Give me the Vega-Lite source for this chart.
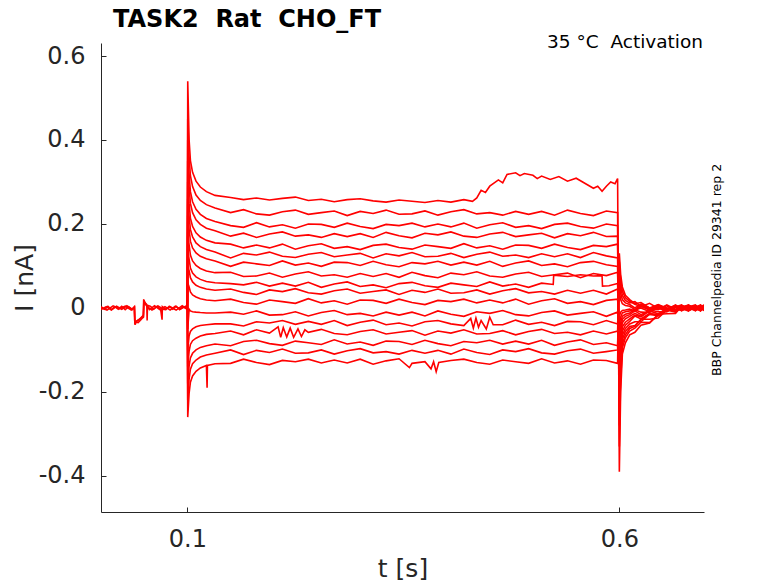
{
  "$schema": "https://vega.github.io/schema/vega-lite/v6.json",
  "autosize": {"type": "none"},
  "width": 603,
  "height": 469,
  "padding": {"left": 101, "top": 43, "right": 74, "bottom": 71},
  "background": "white",
  "config": {
    "view": {"stroke": null},
    "font": "DejaVu Sans",
    "axis": {
      "grid": false,
      "tickSize": -5,
      "domainColor": "#262626",
      "tickColor": "#262626",
      "labelColor": "#262626",
      "titleColor": "#262626",
      "labelFont": "DejaVu Sans",
      "titleFont": "DejaVu Sans",
      "labelFontSize": 24,
      "titleFontSize": 25,
      "titleFontWeight": "normal",
      "labelOverlap": false,
      "labelExpr": "'' + datum.value"
    }
  },
  "layer": [
    {
      "data": {
        "values": [
          {"s":1,"t":0,"i":0.003},{"s":1,"t":0.004,"i":-0.003},{"s":1,"t":0.008,"i":0.004},{"s":1,"t":0.012,"i":-0.004},{"s":1,"t":0.016,"i":0.003},{"s":1,"t":0.02,"i":-0.003},{"s":1,"t":0.024,"i":0.004},{"s":1,"t":0.028,"i":-0.004},{"s":1,"t":0.032,"i":0.003},{"s":1,"t":0.036,"i":-0.003},{"s":1,"t":0.0385,"i":0.002},{"s":1,"t":0.039,"i":-0.03},{"s":1,"t":0.0395,"i":-0.04},{"s":1,"t":0.041,"i":-0.032},{"s":1,"t":0.044,"i":-0.028},{"s":1,"t":0.047,"i":-0.022},{"s":1,"t":0.049,"i":-0.02},{"s":1,"t":0.0494,"i":0.02},{"s":1,"t":0.051,"i":0.012},{"s":1,"t":0.053,"i":0.008},{"s":1,"t":0.0534,"i":-0.03},{"s":1,"t":0.0538,"i":0.006},{"s":1,"t":0.057,"i":0.004},{"s":1,"t":0.061,"i":-0.003},{"s":1,"t":0.065,"i":0.004},{"s":1,"t":0.069,"i":-0.003},{"s":1,"t":0.0707,"i":-0.028},{"s":1,"t":0.071,"i":0.003},{"s":1,"t":0.075,"i":-0.004},{"s":1,"t":0.079,"i":0.004},{"s":1,"t":0.083,"i":-0.003},{"s":1,"t":0.087,"i":0.004},{"s":1,"t":0.091,"i":-0.004},{"s":1,"t":0.095,"i":0.003},{"s":1,"t":0.0998,"i":-0.002},
          {"s":1,"t":0.1,"i":0},{"s":1,"t":0.1004,"i":0.54},{"s":1,"t":0.102,"i":0.4},{"s":1,"t":0.1035,"i":0.351},{"s":1,"t":0.106,"i":0.323},{"s":1,"t":0.11,"i":0.302},{"s":1,"t":0.115,"i":0.288},{"s":1,"t":0.122,"i":0.277},{"s":1,"t":0.132,"i":0.268},
          {"s":1,"t":0.15,"i":0.263},{"s":1,"t":0.165,"i":0.258},{"s":1,"t":0.18,"i":0.262},{"s":1,"t":0.195,"i":0.257},{"s":1,"t":0.21,"i":0.261},{"s":1,"t":0.225,"i":0.264},{"s":1,"t":0.24,"i":0.256},{"s":1,"t":0.255,"i":0.259},{"s":1,"t":0.27,"i":0.253},{"s":1,"t":0.285,"i":0.258},{"s":1,"t":0.3,"i":0.26},{"s":1,"t":0.315,"i":0.255},{"s":1,"t":0.33,"i":0.252},{"s":1,"t":0.345,"i":0.257},{"s":1,"t":0.36,"i":0.254},{"s":1,"t":0.375,"i":0.251},{"s":1,"t":0.39,"i":0.256},{"s":1,"t":0.405,"i":0.252},{"s":1,"t":0.42,"i":0.258},{"s":1,"t":0.43,"i":0.254},{"s":1,"t":0.435,"i":0.262},{"s":1,"t":0.44,"i":0.28},{"s":1,"t":0.445,"i":0.275},{"s":1,"t":0.45,"i":0.29},{"s":1,"t":0.46,"i":0.305},{"s":1,"t":0.465,"i":0.298},{"s":1,"t":0.47,"i":0.318},{"s":1,"t":0.48,"i":0.322},{"s":1,"t":0.485,"i":0.315},{"s":1,"t":0.49,"i":0.32},{"s":1,"t":0.5,"i":0.316},{"s":1,"t":0.505,"i":0.308},{"s":1,"t":0.51,"i":0.314},{"s":1,"t":0.52,"i":0.306},{"s":1,"t":0.53,"i":0.313},{"s":1,"t":0.54,"i":0.302},{"s":1,"t":0.55,"i":0.309},{"s":1,"t":0.56,"i":0.297},{"s":1,"t":0.57,"i":0.285},{"s":1,"t":0.575,"i":0.29},{"s":1,"t":0.58,"i":0.278},{"s":1,"t":0.585,"i":0.29},{"s":1,"t":0.59,"i":0.3},{"s":1,"t":0.595,"i":0.296},{"s":1,"t":0.598,"i":0.308},
          {"s":1,"t":0.6,"i":-0.39},{"s":1,"t":0.6015,"i":-0.2},{"s":1,"t":0.6035,"i":-0.11},{"s":1,"t":0.607,"i":-0.083},{"s":1,"t":0.612,"i":-0.064},{"s":1,"t":0.618,"i":-0.058},{"s":1,"t":0.625,"i":-0.041},{"s":1,"t":0.635,"i":-0.036},{"s":1,"t":0.645,"i":-0.015},{"s":1,"t":0.655,"i":-0.014},{"s":1,"t":0.665,"i":-0.013},{"s":1,"t":0.672,"i":0.004},{"s":1,"t":0.68,"i":-0.003},{"s":1,"t":0.688,"i":0.006},{"s":1,"t":0.694,"i":-0.005},{"s":1,"t":0.698,"i":0.002},

          {"s":2,"t":0,"i":-0.004},{"s":2,"t":0.006,"i":0.003},{"s":2,"t":0.012,"i":-0.005},{"s":2,"t":0.018,"i":0.004},{"s":2,"t":0.024,"i":-0.003},{"s":2,"t":0.03,"i":0.005},{"s":2,"t":0.036,"i":-0.004},{"s":2,"t":0.0388,"i":0.001},{"s":2,"t":0.0392,"i":-0.036},{"s":2,"t":0.042,"i":-0.03},{"s":2,"t":0.046,"i":-0.025},{"s":2,"t":0.049,"i":-0.017},{"s":2,"t":0.0496,"i":0.016},{"s":2,"t":0.052,"i":0.009},{"s":2,"t":0.056,"i":-0.004},{"s":2,"t":0.062,"i":0.005},{"s":2,"t":0.068,"i":-0.004},{"s":2,"t":0.074,"i":0.003},{"s":2,"t":0.08,"i":-0.005},{"s":2,"t":0.086,"i":0.004},{"s":2,"t":0.092,"i":-0.003},{"s":2,"t":0.098,"i":0.004},
          {"s":2,"t":0.1,"i":0},{"s":2,"t":0.1004,"i":0.45},{"s":2,"t":0.102,"i":0.36},{"s":2,"t":0.1035,"i":0.315},{"s":2,"t":0.106,"i":0.289},{"s":2,"t":0.11,"i":0.269},{"s":2,"t":0.115,"i":0.256},{"s":2,"t":0.122,"i":0.246},{"s":2,"t":0.132,"i":0.238},
          {"s":2,"t":0.15,"i":0.227},{"s":2,"t":0.165,"i":0.234},{"s":2,"t":0.18,"i":0.224},{"s":2,"t":0.195,"i":0.221},{"s":2,"t":0.21,"i":0.229},{"s":2,"t":0.225,"i":0.233},{"s":2,"t":0.24,"i":0.223},{"s":2,"t":0.255,"i":0.227},{"s":2,"t":0.27,"i":0.231},{"s":2,"t":0.285,"i":0.22},{"s":2,"t":0.3,"i":0.23},{"s":2,"t":0.315,"i":0.225},{"s":2,"t":0.33,"i":0.233},{"s":2,"t":0.345,"i":0.223},{"s":2,"t":0.36,"i":0.224},{"s":2,"t":0.375,"i":0.231},{"s":2,"t":0.39,"i":0.221},{"s":2,"t":0.405,"i":0.229},{"s":2,"t":0.42,"i":0.234},{"s":2,"t":0.435,"i":0.224},{"s":2,"t":0.45,"i":0.227},{"s":2,"t":0.465,"i":0.221},{"s":2,"t":0.48,"i":0.23},{"s":2,"t":0.495,"i":0.223},{"s":2,"t":0.51,"i":0.23},{"s":2,"t":0.525,"i":0.221},{"s":2,"t":0.54,"i":0.233},{"s":2,"t":0.555,"i":0.225},{"s":2,"t":0.57,"i":0.22},{"s":2,"t":0.585,"i":0.231},{"s":2,"t":0.598,"i":0.227},
          {"s":2,"t":0.6,"i":-0.33},{"s":2,"t":0.6015,"i":-0.17},{"s":2,"t":0.6035,"i":-0.095},{"s":2,"t":0.607,"i":-0.071},{"s":2,"t":0.612,"i":-0.055},{"s":2,"t":0.618,"i":-0.048},{"s":2,"t":0.625,"i":-0.034},{"s":2,"t":0.635,"i":-0.035},{"s":2,"t":0.645,"i":-0.017},{"s":2,"t":0.655,"i":-0.003},{"s":2,"t":0.665,"i":-0.009},{"s":2,"t":0.672,"i":0.003},{"s":2,"t":0.68,"i":-0.006},{"s":2,"t":0.688,"i":0.005},{"s":2,"t":0.694,"i":-0.002},{"s":2,"t":0.698,"i":-0.005},

          {"s":3,"t":0,"i":0.001},{"s":3,"t":0.007,"i":-0.005},{"s":3,"t":0.014,"i":0.005},{"s":3,"t":0.021,"i":-0.002},{"s":3,"t":0.028,"i":0.004},{"s":3,"t":0.035,"i":-0.005},{"s":3,"t":0.0387,"i":0.003},{"s":3,"t":0.0393,"i":-0.033},{"s":3,"t":0.043,"i":-0.035},{"s":3,"t":0.047,"i":-0.026},{"s":3,"t":0.0492,"i":-0.022},{"s":3,"t":0.0498,"i":0.014},{"s":3,"t":0.053,"i":0.004},{"s":3,"t":0.059,"i":-0.005},{"s":3,"t":0.066,"i":0.005},{"s":3,"t":0.073,"i":-0.004},{"s":3,"t":0.08,"i":0.003},{"s":3,"t":0.087,"i":-0.005},{"s":3,"t":0.094,"i":0.005},{"s":3,"t":0.0995,"i":-0.003},
          {"s":3,"t":0.1,"i":0},{"s":3,"t":0.1004,"i":0.4},{"s":3,"t":0.102,"i":0.319},{"s":3,"t":0.1035,"i":0.277},{"s":3,"t":0.106,"i":0.253},{"s":3,"t":0.11,"i":0.235},{"s":3,"t":0.115,"i":0.223},{"s":3,"t":0.122,"i":0.213},{"s":3,"t":0.132,"i":0.206},
          {"s":3,"t":0.15,"i":0.196},{"s":3,"t":0.165,"i":0.192},{"s":3,"t":0.18,"i":0.203},{"s":3,"t":0.195,"i":0.193},{"s":3,"t":0.21,"i":0.198},{"s":3,"t":0.225,"i":0.19},{"s":3,"t":0.24,"i":0.2},{"s":3,"t":0.255,"i":0.199},{"s":3,"t":0.27,"i":0.192},{"s":3,"t":0.285,"i":0.202},{"s":3,"t":0.3,"i":0.194},{"s":3,"t":0.315,"i":0.189},{"s":3,"t":0.33,"i":0.199},{"s":3,"t":0.345,"i":0.196},{"s":3,"t":0.36,"i":0.202},{"s":3,"t":0.375,"i":0.193},{"s":3,"t":0.39,"i":0.2},{"s":3,"t":0.405,"i":0.193},{"s":3,"t":0.42,"i":0.202},{"s":3,"t":0.435,"i":0.19},{"s":3,"t":0.45,"i":0.198},{"s":3,"t":0.465,"i":0.203},{"s":3,"t":0.48,"i":0.192},{"s":3,"t":0.495,"i":0.196},{"s":3,"t":0.51,"i":0.189},{"s":3,"t":0.525,"i":0.199},{"s":3,"t":0.54,"i":0.202},{"s":3,"t":0.555,"i":0.194},{"s":3,"t":0.57,"i":0.19},{"s":3,"t":0.585,"i":0.2},{"s":3,"t":0.598,"i":0.196},
          {"s":3,"t":0.6,"i":-0.28},{"s":3,"t":0.6015,"i":-0.15},{"s":3,"t":0.6035,"i":-0.085},{"s":3,"t":0.607,"i":-0.064},{"s":3,"t":0.612,"i":-0.049},{"s":3,"t":0.618,"i":-0.044},{"s":3,"t":0.625,"i":-0.027},{"s":3,"t":0.635,"i":-0.027},{"s":3,"t":0.645,"i":-0.024},{"s":3,"t":0.655,"i":-0.005},{"s":3,"t":0.665,"i":-0.007},{"s":3,"t":0.672,"i":0.006},{"s":3,"t":0.68,"i":-0.005},{"s":3,"t":0.688,"i":0.002},{"s":3,"t":0.694,"i":0.005},{"s":3,"t":0.698,"i":-0.006},

          {"s":4,"t":0.1,"i":0},{"s":4,"t":0.1004,"i":0.35},{"s":4,"t":0.102,"i":0.287},{"s":4,"t":0.1035,"i":0.249},{"s":4,"t":0.106,"i":0.227},{"s":4,"t":0.11,"i":0.21},{"s":4,"t":0.115,"i":0.199},{"s":4,"t":0.122,"i":0.19},{"s":4,"t":0.132,"i":0.184},
          {"s":4,"t":0.15,"i":0.171},{"s":4,"t":0.165,"i":0.178},{"s":4,"t":0.18,"i":0.168},{"s":4,"t":0.195,"i":0.176},{"s":4,"t":0.21,"i":0.181},{"s":4,"t":0.225,"i":0.171},{"s":4,"t":0.24,"i":0.174},{"s":4,"t":0.255,"i":0.168},{"s":4,"t":0.27,"i":0.177},{"s":4,"t":0.285,"i":0.17},{"s":4,"t":0.3,"i":0.177},{"s":4,"t":0.315,"i":0.168},{"s":4,"t":0.33,"i":0.18},{"s":4,"t":0.345,"i":0.172},{"s":4,"t":0.36,"i":0.167},{"s":4,"t":0.375,"i":0.178},{"s":4,"t":0.39,"i":0.174},{"s":4,"t":0.405,"i":0.181},{"s":4,"t":0.42,"i":0.171},{"s":4,"t":0.435,"i":0.168},{"s":4,"t":0.45,"i":0.176},{"s":4,"t":0.465,"i":0.18},{"s":4,"t":0.48,"i":0.17},{"s":4,"t":0.495,"i":0.174},{"s":4,"t":0.51,"i":0.178},{"s":4,"t":0.525,"i":0.167},{"s":4,"t":0.54,"i":0.177},{"s":4,"t":0.555,"i":0.172},{"s":4,"t":0.57,"i":0.18},{"s":4,"t":0.585,"i":0.17},{"s":4,"t":0.598,"i":0.171},
          {"s":4,"t":0.6,"i":-0.24},{"s":4,"t":0.6015,"i":-0.13},{"s":4,"t":0.6035,"i":-0.075},{"s":4,"t":0.607,"i":-0.056},{"s":4,"t":0.612,"i":-0.044},{"s":4,"t":0.618,"i":-0.042},{"s":4,"t":0.625,"i":-0.028},{"s":4,"t":0.635,"i":-0.015},{"s":4,"t":0.645,"i":-0.019},{"s":4,"t":0.655,"i":-0.005},{"s":4,"t":0.665,"i":-0.01},{"s":4,"t":0.672,"i":0.005},{"s":4,"t":0.68,"i":-0.002},{"s":4,"t":0.688,"i":-0.005},{"s":4,"t":0.694,"i":0.006},{"s":4,"t":0.698,"i":-0.003},

          {"s":5,"t":0.1,"i":0},{"s":5,"t":0.1004,"i":0.3},{"s":5,"t":0.102,"i":0.249},{"s":5,"t":0.1035,"i":0.214},{"s":5,"t":0.106,"i":0.194},{"s":5,"t":0.11,"i":0.179},{"s":5,"t":0.115,"i":0.169},{"s":5,"t":0.122,"i":0.161},{"s":5,"t":0.132,"i":0.155},
          {"s":5,"t":0.15,"i":0.152},{"s":5,"t":0.165,"i":0.143},{"s":5,"t":0.18,"i":0.15},{"s":5,"t":0.195,"i":0.143},{"s":5,"t":0.21,"i":0.152},{"s":5,"t":0.225,"i":0.14},{"s":5,"t":0.24,"i":0.148},{"s":5,"t":0.255,"i":0.153},{"s":5,"t":0.27,"i":0.142},{"s":5,"t":0.285,"i":0.146},{"s":5,"t":0.3,"i":0.139},{"s":5,"t":0.315,"i":0.149},{"s":5,"t":0.33,"i":0.152},{"s":5,"t":0.345,"i":0.144},{"s":5,"t":0.36,"i":0.14},{"s":5,"t":0.375,"i":0.15},{"s":5,"t":0.39,"i":0.146},{"s":5,"t":0.405,"i":0.142},{"s":5,"t":0.42,"i":0.153},{"s":5,"t":0.435,"i":0.143},{"s":5,"t":0.45,"i":0.148},{"s":5,"t":0.465,"i":0.14},{"s":5,"t":0.48,"i":0.15},{"s":5,"t":0.495,"i":0.149},{"s":5,"t":0.51,"i":0.142},{"s":5,"t":0.525,"i":0.152},{"s":5,"t":0.54,"i":0.144},{"s":5,"t":0.555,"i":0.139},{"s":5,"t":0.57,"i":0.149},{"s":5,"t":0.585,"i":0.146},{"s":5,"t":0.598,"i":0.152},
          {"s":5,"t":0.6,"i":-0.2},{"s":5,"t":0.6015,"i":-0.11},{"s":5,"t":0.6035,"i":-0.065},{"s":5,"t":0.607,"i":-0.049},{"s":5,"t":0.612,"i":-0.038},{"s":5,"t":0.618,"i":-0.033},{"s":5,"t":0.625,"i":-0.033},{"s":5,"t":0.635,"i":-0.015},{"s":5,"t":0.645,"i":-0.016},{"s":5,"t":0.655,"i":-0.001},{"s":5,"t":0.665,"i":-0.008},{"s":5,"t":0.672,"i":0.002},{"s":5,"t":0.68,"i":0.005},{"s":5,"t":0.688,"i":-0.006},{"s":5,"t":0.694,"i":0.003},{"s":5,"t":0.698,"i":-0.004},

          {"s":6,"t":0.1,"i":0},{"s":6,"t":0.1004,"i":0.26},{"s":6,"t":0.102,"i":0.218},{"s":6,"t":0.1035,"i":0.187},{"s":6,"t":0.106,"i":0.169},{"s":6,"t":0.11,"i":0.155},{"s":6,"t":0.115,"i":0.146},{"s":6,"t":0.122,"i":0.139},{"s":6,"t":0.132,"i":0.133},
          {"s":6,"t":0.15,"i":0.119},{"s":6,"t":0.165,"i":0.13},{"s":6,"t":0.18,"i":0.126},{"s":6,"t":0.195,"i":0.133},{"s":6,"t":0.21,"i":0.123},{"s":6,"t":0.225,"i":0.12},{"s":6,"t":0.24,"i":0.128},{"s":6,"t":0.255,"i":0.132},{"s":6,"t":0.27,"i":0.122},{"s":6,"t":0.285,"i":0.126},{"s":6,"t":0.3,"i":0.13},{"s":6,"t":0.315,"i":0.119},{"s":6,"t":0.33,"i":0.129},{"s":6,"t":0.345,"i":0.124},{"s":6,"t":0.36,"i":0.132},{"s":6,"t":0.375,"i":0.122},{"s":6,"t":0.39,"i":0.123},{"s":6,"t":0.405,"i":0.13},{"s":6,"t":0.42,"i":0.12},{"s":6,"t":0.435,"i":0.128},{"s":6,"t":0.45,"i":0.133},{"s":6,"t":0.465,"i":0.123},{"s":6,"t":0.48,"i":0.126},{"s":6,"t":0.495,"i":0.12},{"s":6,"t":0.51,"i":0.129},{"s":6,"t":0.525,"i":0.122},{"s":6,"t":0.54,"i":0.129},{"s":6,"t":0.555,"i":0.12},{"s":6,"t":0.57,"i":0.132},{"s":6,"t":0.585,"i":0.124},{"s":6,"t":0.598,"i":0.119},
          {"s":6,"t":0.6,"i":-0.17},{"s":6,"t":0.6015,"i":-0.095},{"s":6,"t":0.6035,"i":-0.055},{"s":6,"t":0.607,"i":-0.041},{"s":6,"t":0.612,"i":-0.032},{"s":6,"t":0.618,"i":-0.019},{"s":6,"t":0.625,"i":-0.026},{"s":6,"t":0.635,"i":-0.013},{"s":6,"t":0.645,"i":-0.017},{"s":6,"t":0.655,"i":-0.001},{"s":6,"t":0.665,"i":-0.005},{"s":6,"t":0.672,"i":-0.005},{"s":6,"t":0.68,"i":0.006},{"s":6,"t":0.688,"i":-0.003},{"s":6,"t":0.694,"i":0.004},{"s":6,"t":0.698,"i":-0.007},

          {"s":7,"t":0.1,"i":0},{"s":7,"t":0.1004,"i":0.22},{"s":7,"t":0.102,"i":0.187},{"s":7,"t":0.1035,"i":0.159},{"s":7,"t":0.106,"i":0.143},{"s":7,"t":0.11,"i":0.131},{"s":7,"t":0.115,"i":0.123},{"s":7,"t":0.122,"i":0.117},{"s":7,"t":0.132,"i":0.112},
          {"s":7,"t":0.15,"i":0.099},{"s":7,"t":0.165,"i":0.109},{"s":7,"t":0.18,"i":0.105},{"s":7,"t":0.195,"i":0.101},{"s":7,"t":0.21,"i":0.112},{"s":7,"t":0.225,"i":0.102},{"s":7,"t":0.24,"i":0.107},{"s":7,"t":0.255,"i":0.099},{"s":7,"t":0.27,"i":0.109},{"s":7,"t":0.285,"i":0.108},{"s":7,"t":0.3,"i":0.101},{"s":7,"t":0.315,"i":0.111},{"s":7,"t":0.33,"i":0.103},{"s":7,"t":0.345,"i":0.098},{"s":7,"t":0.36,"i":0.108},{"s":7,"t":0.375,"i":0.105},{"s":7,"t":0.39,"i":0.111},{"s":7,"t":0.405,"i":0.102},{"s":7,"t":0.42,"i":0.109},{"s":7,"t":0.435,"i":0.102},{"s":7,"t":0.45,"i":0.111},{"s":7,"t":0.465,"i":0.099},{"s":7,"t":0.48,"i":0.107},{"s":7,"t":0.495,"i":0.112},{"s":7,"t":0.51,"i":0.101},{"s":7,"t":0.525,"i":0.105},{"s":7,"t":0.54,"i":0.098},{"s":7,"t":0.555,"i":0.108},{"s":7,"t":0.57,"i":0.111},{"s":7,"t":0.585,"i":0.103},{"s":7,"t":0.598,"i":0.099},
          {"s":7,"t":0.6,"i":-0.14},{"s":7,"t":0.6015,"i":-0.08},{"s":7,"t":0.6035,"i":-0.045},{"s":7,"t":0.607,"i":-0.034},{"s":7,"t":0.612,"i":-0.026},{"s":7,"t":0.618,"i":-0.017},{"s":7,"t":0.625,"i":-0.021},{"s":7,"t":0.635,"i":-0.007},{"s":7,"t":0.645,"i":-0.014},{"s":7,"t":0.655,"i":-0.003},{"s":7,"t":0.665,"i":0.003},{"s":7,"t":0.672,"i":-0.006},{"s":7,"t":0.68,"i":0.003},{"s":7,"t":0.688,"i":-0.004},{"s":7,"t":0.694,"i":0.007},{"s":7,"t":0.698,"i":-0.002},

          {"s":8,"t":0.1,"i":0},{"s":8,"t":0.1004,"i":0.18},{"s":8,"t":0.102,"i":0.15},{"s":8,"t":0.1035,"i":0.126},{"s":8,"t":0.106,"i":0.112},{"s":8,"t":0.11,"i":0.101},{"s":8,"t":0.115,"i":0.094},{"s":8,"t":0.122,"i":0.088},{"s":8,"t":0.132,"i":0.084},
          {"s":8,"t":0.15,"i":0.085},{"s":8,"t":0.165,"i":0.075},{"s":8,"t":0.18,"i":0.076},{"s":8,"t":0.195,"i":0.083},{"s":8,"t":0.21,"i":0.073},{"s":8,"t":0.225,"i":0.081},{"s":8,"t":0.24,"i":0.086},{"s":8,"t":0.255,"i":0.076},{"s":8,"t":0.27,"i":0.079},{"s":8,"t":0.285,"i":0.073},{"s":8,"t":0.3,"i":0.082},{"s":8,"t":0.315,"i":0.075},{"s":8,"t":0.33,"i":0.082},{"s":8,"t":0.345,"i":0.073},{"s":8,"t":0.36,"i":0.085},{"s":8,"t":0.375,"i":0.077},{"s":8,"t":0.39,"i":0.072},{"s":8,"t":0.405,"i":0.083},{"s":8,"t":0.42,"i":0.079},{"s":8,"t":0.435,"i":0.086},{"s":8,"t":0.45,"i":0.076},{"s":8,"t":0.465,"i":0.073},{"s":8,"t":0.48,"i":0.081},{"s":8,"t":0.495,"i":0.085},{"s":8,"t":0.51,"i":0.075},{"s":8,"t":0.525,"i":0.079},{"s":8,"t":0.54,"i":0.083},{"s":8,"t":0.555,"i":0.072},{"s":8,"t":0.57,"i":0.082},{"s":8,"t":0.585,"i":0.077},{"s":8,"t":0.598,"i":0.085},
          {"s":8,"t":0.6,"i":-0.11},{"s":8,"t":0.6015,"i":-0.065},{"s":8,"t":0.6035,"i":-0.035},{"s":8,"t":0.607,"i":-0.026},{"s":8,"t":0.612,"i":-0.02},{"s":8,"t":0.618,"i":-0.013},{"s":8,"t":0.625,"i":-0.02},{"s":8,"t":0.635,"i":-0.005},{"s":8,"t":0.645,"i":-0.009},{"s":8,"t":0.655,"i":-0.009},{"s":8,"t":0.665,"i":0.004},{"s":8,"t":0.672,"i":-0.003},{"s":8,"t":0.68,"i":0.004},{"s":8,"t":0.688,"i":-0.007},{"s":8,"t":0.694,"i":0.002},{"s":8,"t":0.698,"i":0.007},

          {"s":9,"t":0.1,"i":0},{"s":9,"t":0.1004,"i":0.14},{"s":9,"t":0.102,"i":0.116},{"s":9,"t":0.1035,"i":0.095},{"s":9,"t":0.106,"i":0.083},{"s":9,"t":0.11,"i":0.074},{"s":9,"t":0.115,"i":0.068},{"s":9,"t":0.122,"i":0.063},{"s":9,"t":0.132,"i":0.06},
          {"s":9,"t":0.15,"i":0.058},{"s":9,"t":0.165,"i":0.055},{"s":9,"t":0.18,"i":0.061},{"s":9,"t":0.195,"i":0.052},{"s":9,"t":0.21,"i":0.059},{"s":9,"t":0.225,"i":0.052},{"s":9,"t":0.24,"i":0.061},{"s":9,"t":0.255,"i":0.049},{"s":9,"t":0.27,"i":0.057},{"s":9,"t":0.285,"i":0.062},{"s":9,"t":0.3,"i":0.051},{"s":9,"t":0.315,"i":0.055},{"s":9,"t":0.33,"i":0.048},{"s":9,"t":0.345,"i":0.058},{"s":9,"t":0.36,"i":0.061},{"s":9,"t":0.375,"i":0.053},{"s":9,"t":0.39,"i":0.049},{"s":9,"t":0.405,"i":0.059},{"s":9,"t":0.42,"i":0.055},{"s":9,"t":0.435,"i":0.051},{"s":9,"t":0.45,"i":0.062},{"s":9,"t":0.465,"i":0.052},{"s":9,"t":0.48,"i":0.057},{"s":9,"t":0.495,"i":0.049},{"s":9,"t":0.51,"i":0.059},{"s":9,"t":0.5235,"i":0.056},{"s":9,"t":0.524,"i":0.078},{"s":9,"t":0.54,"i":0.075},{"s":9,"t":0.555,"i":0.079},{"s":9,"t":0.57,"i":0.076},{"s":9,"t":0.58,"i":0.077},{"s":9,"t":0.5805,"i":0.052},{"s":9,"t":0.588,"i":0.053},{"s":9,"t":0.598,"i":0.058},
          {"s":9,"t":0.6,"i":-0.08},{"s":9,"t":0.6015,"i":-0.05},{"s":9,"t":0.6035,"i":-0.027},{"s":9,"t":0.607,"i":-0.02},{"s":9,"t":0.612,"i":-0.016},{"s":9,"t":0.618,"i":-0.007},{"s":9,"t":0.625,"i":-0.016},{"s":9,"t":0.635,"i":-0.006},{"s":9,"t":0.645,"i":0},{"s":9,"t":0.655,"i":-0.009},{"s":9,"t":0.665,"i":0.002},{"s":9,"t":0.672,"i":-0.004},{"s":9,"t":0.68,"i":0.007},{"s":9,"t":0.688,"i":-0.002},{"s":9,"t":0.694,"i":-0.007},{"s":9,"t":0.698,"i":0.004},

          {"s":10,"t":0.1,"i":0},{"s":10,"t":0.1004,"i":0.1},{"s":10,"t":0.102,"i":0.089},{"s":10,"t":0.1035,"i":0.072},{"s":10,"t":0.106,"i":0.062},{"s":10,"t":0.11,"i":0.054},{"s":10,"t":0.115,"i":0.049},{"s":10,"t":0.122,"i":0.045},{"s":10,"t":0.132,"i":0.042},
          {"s":10,"t":0.15,"i":0.045},{"s":10,"t":0.165,"i":0.037},{"s":10,"t":0.18,"i":0.032},{"s":10,"t":0.195,"i":0.043},{"s":10,"t":0.21,"i":0.039},{"s":10,"t":0.225,"i":0.046},{"s":10,"t":0.24,"i":0.036},{"s":10,"t":0.255,"i":0.033},{"s":10,"t":0.27,"i":0.041},{"s":10,"t":0.285,"i":0.045},{"s":10,"t":0.3,"i":0.035},{"s":10,"t":0.315,"i":0.039},{"s":10,"t":0.33,"i":0.043},{"s":10,"t":0.345,"i":0.032},{"s":10,"t":0.36,"i":0.042},{"s":10,"t":0.375,"i":0.037},{"s":10,"t":0.39,"i":0.045},{"s":10,"t":0.405,"i":0.035},{"s":10,"t":0.42,"i":0.036},{"s":10,"t":0.435,"i":0.043},{"s":10,"t":0.45,"i":0.033},{"s":10,"t":0.465,"i":0.041},{"s":10,"t":0.48,"i":0.046},{"s":10,"t":0.495,"i":0.036},{"s":10,"t":0.51,"i":0.039},{"s":10,"t":0.525,"i":0.033},{"s":10,"t":0.54,"i":0.042},{"s":10,"t":0.555,"i":0.035},{"s":10,"t":0.57,"i":0.042},{"s":10,"t":0.585,"i":0.033},{"s":10,"t":0.598,"i":0.045},
          {"s":10,"t":0.6,"i":-0.06},{"s":10,"t":0.6015,"i":-0.035},{"s":10,"t":0.6035,"i":-0.02},{"s":10,"t":0.607,"i":-0.015},{"s":10,"t":0.612,"i":-0.012},{"s":10,"t":0.618,"i":-0.004},{"s":10,"t":0.625,"i":-0.01},{"s":10,"t":0.635,"i":-0.011},{"s":10,"t":0.645,"i":0.002},{"s":10,"t":0.655,"i":-0.005},{"s":10,"t":0.665,"i":0.003},{"s":10,"t":0.672,"i":-0.007},{"s":10,"t":0.68,"i":0.002},{"s":10,"t":0.688,"i":0.007},{"s":10,"t":0.694,"i":-0.004},{"s":10,"t":0.698,"i":0.003},

          {"s":11,"t":0.1,"i":0},{"s":11,"t":0.1004,"i":0.06},{"s":11,"t":0.102,"i":0.05},{"s":11,"t":0.1035,"i":0.038},{"s":11,"t":0.106,"i":0.031},{"s":11,"t":0.11,"i":0.026},{"s":11,"t":0.115,"i":0.022},{"s":11,"t":0.122,"i":0.019},{"s":11,"t":0.132,"i":0.017},
          {"s":11,"t":0.15,"i":0.021},{"s":11,"t":0.165,"i":0.013},{"s":11,"t":0.18,"i":0.009},{"s":11,"t":0.195,"i":0.019},{"s":11,"t":0.21,"i":0.015},{"s":11,"t":0.225,"i":0.011},{"s":11,"t":0.24,"i":0.022},{"s":11,"t":0.255,"i":0.012},{"s":11,"t":0.27,"i":0.017},{"s":11,"t":0.285,"i":0.009},{"s":11,"t":0.3,"i":0.019},{"s":11,"t":0.315,"i":0.018},{"s":11,"t":0.33,"i":0.011},{"s":11,"t":0.345,"i":0.021},{"s":11,"t":0.36,"i":0.013},{"s":11,"t":0.375,"i":0.008},{"s":11,"t":0.39,"i":0.018},{"s":11,"t":0.405,"i":0.015},{"s":11,"t":0.42,"i":0.021},{"s":11,"t":0.435,"i":0.012},{"s":11,"t":0.45,"i":0.019},{"s":11,"t":0.465,"i":0.012},{"s":11,"t":0.48,"i":0.021},{"s":11,"t":0.495,"i":0.009},{"s":11,"t":0.51,"i":0.017},{"s":11,"t":0.525,"i":0.022},{"s":11,"t":0.54,"i":0.011},{"s":11,"t":0.555,"i":0.015},{"s":11,"t":0.57,"i":0.008},{"s":11,"t":0.585,"i":0.018},{"s":11,"t":0.598,"i":0.021},
          {"s":11,"t":0.6,"i":-0.04},{"s":11,"t":0.6015,"i":-0.022},{"s":11,"t":0.6035,"i":-0.012},{"s":11,"t":0.607,"i":-0.009},{"s":11,"t":0.612,"i":-0.007},{"s":11,"t":0.618,"i":-0.004},{"s":11,"t":0.625,"i":0},{"s":11,"t":0.635,"i":-0.009},{"s":11,"t":0.645,"i":0.001},{"s":11,"t":0.655,"i":-0.005},{"s":11,"t":0.665,"i":0.007},{"s":11,"t":0.672,"i":-0.002},{"s":11,"t":0.68,"i":-0.007},{"s":11,"t":0.688,"i":0.004},{"s":11,"t":0.694,"i":-0.003},{"s":11,"t":0.698,"i":0.006},

          {"s":12,"t":0.1,"i":0},{"s":12,"t":0.1004,"i":-0.05},{"s":12,"t":0.102,"i":-0.003},{"s":12,"t":0.1035,"i":-0.007},{"s":12,"t":0.106,"i":-0.009},{"s":12,"t":0.11,"i":-0.01},{"s":12,"t":0.115,"i":-0.011},{"s":12,"t":0.122,"i":-0.012},{"s":12,"t":0.132,"i":-0.012},
          {"s":12,"t":0.15,"i":-0.01},{"s":12,"t":0.165,"i":-0.015},{"s":12,"t":0.18,"i":-0.007},{"s":12,"t":0.195,"i":-0.017},{"s":12,"t":0.21,"i":-0.016},{"s":12,"t":0.225,"i":-0.009},{"s":12,"t":0.24,"i":-0.019},{"s":12,"t":0.255,"i":-0.011},{"s":12,"t":0.27,"i":-0.006},{"s":12,"t":0.285,"i":-0.016},{"s":12,"t":0.3,"i":-0.013},{"s":12,"t":0.315,"i":-0.019},{"s":12,"t":0.33,"i":-0.01},{"s":12,"t":0.345,"i":-0.017},{"s":12,"t":0.36,"i":-0.01},{"s":12,"t":0.375,"i":-0.019},{"s":12,"t":0.39,"i":-0.007},{"s":12,"t":0.405,"i":-0.015},{"s":12,"t":0.42,"i":-0.02},{"s":12,"t":0.435,"i":-0.009},{"s":12,"t":0.45,"i":-0.013},{"s":12,"t":0.465,"i":-0.006},{"s":12,"t":0.48,"i":-0.016},{"s":12,"t":0.495,"i":-0.019},{"s":12,"t":0.51,"i":-0.011},{"s":12,"t":0.525,"i":-0.007},{"s":12,"t":0.54,"i":-0.017},{"s":12,"t":0.555,"i":-0.013},{"s":12,"t":0.57,"i":-0.009},{"s":12,"t":0.585,"i":-0.02},{"s":12,"t":0.598,"i":-0.01},
          {"s":12,"t":0.6,"i":-0.02},{"s":12,"t":0.6015,"i":-0.01},{"s":12,"t":0.6035,"i":-0.006},{"s":12,"t":0.607,"i":-0.005},{"s":12,"t":0.612,"i":-0.003},{"s":12,"t":0.618,"i":-0.008},{"s":12,"t":0.625,"i":0.004},{"s":12,"t":0.635,"i":-0.005},{"s":12,"t":0.645,"i":0.003},{"s":12,"t":0.655,"i":-0.007},{"s":12,"t":0.665,"i":0.002},{"s":12,"t":0.672,"i":0.007},{"s":12,"t":0.68,"i":-0.004},{"s":12,"t":0.688,"i":0.003},{"s":12,"t":0.694,"i":-0.006},{"s":12,"t":0.698,"i":0.005},

          {"s":13,"t":0.1,"i":0},{"s":13,"t":0.1004,"i":-0.1},{"s":13,"t":0.102,"i":-0.066},{"s":13,"t":0.1035,"i":-0.056},{"s":13,"t":0.106,"i":-0.05},{"s":13,"t":0.11,"i":-0.045},{"s":13,"t":0.115,"i":-0.042},{"s":13,"t":0.122,"i":-0.04},{"s":13,"t":0.132,"i":-0.038},
          {"s":13,"t":0.15,"i":-0.038},{"s":13,"t":0.165,"i":-0.043},{"s":13,"t":0.18,"i":-0.033},{"s":13,"t":0.195,"i":-0.036},{"s":13,"t":0.21,"i":-0.03},{"s":13,"t":0.225,"i":-0.039},{"s":13,"t":0.24,"i":-0.032},{"s":13,"t":0.255,"i":-0.039},{"s":13,"t":0.27,"i":-0.03},{"s":13,"t":0.285,"i":-0.042},{"s":13,"t":0.3,"i":-0.034},{"s":13,"t":0.315,"i":-0.029},{"s":13,"t":0.33,"i":-0.04},{"s":13,"t":0.345,"i":-0.036},{"s":13,"t":0.36,"i":-0.043},{"s":13,"t":0.375,"i":-0.033},{"s":13,"t":0.39,"i":-0.03},{"s":13,"t":0.405,"i":-0.038},{"s":13,"t":0.42,"i":-0.042},{"s":13,"t":0.428,"i":-0.025},{"s":13,"t":0.431,"i":-0.048},{"s":13,"t":0.434,"i":-0.024},{"s":13,"t":0.437,"i":-0.046},{"s":13,"t":0.44,"i":-0.03},{"s":13,"t":0.446,"i":-0.05},{"s":13,"t":0.45,"i":-0.022},{"s":13,"t":0.454,"i":-0.04},{"s":13,"t":0.465,"i":-0.04},{"s":13,"t":0.48,"i":-0.029},{"s":13,"t":0.495,"i":-0.039},{"s":13,"t":0.51,"i":-0.034},{"s":13,"t":0.525,"i":-0.042},{"s":13,"t":0.54,"i":-0.032},{"s":13,"t":0.555,"i":-0.033},{"s":13,"t":0.57,"i":-0.04},{"s":13,"t":0.585,"i":-0.03},{"s":13,"t":0.598,"i":-0.038},
          {"s":13,"t":0.6,"i":0.04},{"s":13,"t":0.6015,"i":0.02},{"s":13,"t":0.6035,"i":0.01},{"s":13,"t":0.607,"i":0.006},{"s":13,"t":0.612,"i":0.004},{"s":13,"t":0.618,"i":-0.004},{"s":13,"t":0.625,"i":0.006},{"s":13,"t":0.635,"i":-0.002},{"s":13,"t":0.645,"i":0.007},{"s":13,"t":0.655,"i":-0.005},{"s":13,"t":0.665,"i":0.002},{"s":13,"t":0.672,"i":0.005},{"s":13,"t":0.68,"i":-0.006},{"s":13,"t":0.688,"i":0.003},{"s":13,"t":0.694,"i":-0.004},{"s":13,"t":0.698,"i":0.007},

          {"s":14,"t":0.1,"i":0},{"s":14,"t":0.1004,"i":-0.14},{"s":14,"t":0.102,"i":-0.103},{"s":14,"t":0.1035,"i":-0.087},{"s":14,"t":0.106,"i":-0.078},{"s":14,"t":0.11,"i":-0.072},{"s":14,"t":0.115,"i":-0.067},{"s":14,"t":0.122,"i":-0.063},{"s":14,"t":0.132,"i":-0.061},
          {"s":14,"t":0.15,"i":-0.055},{"s":14,"t":0.165,"i":-0.064},{"s":14,"t":0.18,"i":-0.052},{"s":14,"t":0.195,"i":-0.06},{"s":14,"t":0.205,"i":-0.045},{"s":14,"t":0.208,"i":-0.07},{"s":14,"t":0.211,"i":-0.047},{"s":14,"t":0.215,"i":-0.069},{"s":14,"t":0.219,"i":-0.048},{"s":14,"t":0.223,"i":-0.07},{"s":14,"t":0.228,"i":-0.05},{"s":14,"t":0.232,"i":-0.068},{"s":14,"t":0.236,"i":-0.052},{"s":14,"t":0.24,"i":-0.058},{"s":14,"t":0.255,"i":-0.051},{"s":14,"t":0.27,"i":-0.061},{"s":14,"t":0.285,"i":-0.064},{"s":14,"t":0.3,"i":-0.056},{"s":14,"t":0.315,"i":-0.052},{"s":14,"t":0.33,"i":-0.062},{"s":14,"t":0.345,"i":-0.058},{"s":14,"t":0.36,"i":-0.054},{"s":14,"t":0.375,"i":-0.065},{"s":14,"t":0.39,"i":-0.055},{"s":14,"t":0.405,"i":-0.06},{"s":14,"t":0.42,"i":-0.052},{"s":14,"t":0.435,"i":-0.062},{"s":14,"t":0.45,"i":-0.061},{"s":14,"t":0.465,"i":-0.054},{"s":14,"t":0.48,"i":-0.064},{"s":14,"t":0.495,"i":-0.056},{"s":14,"t":0.51,"i":-0.051},{"s":14,"t":0.525,"i":-0.061},{"s":14,"t":0.54,"i":-0.058},{"s":14,"t":0.555,"i":-0.064},{"s":14,"t":0.57,"i":-0.055},{"s":14,"t":0.585,"i":-0.062},{"s":14,"t":0.598,"i":-0.055},
          {"s":14,"t":0.6,"i":0.07},{"s":14,"t":0.6015,"i":0.035},{"s":14,"t":0.6035,"i":0.02},{"s":14,"t":0.607,"i":0.012},{"s":14,"t":0.612,"i":0.008},{"s":14,"t":0.618,"i":0},{"s":14,"t":0.625,"i":0.009},{"s":14,"t":0.635,"i":0},{"s":14,"t":0.645,"i":-0.004},{"s":14,"t":0.655,"i":0.007},{"s":14,"t":0.665,"i":-0.003},{"s":14,"t":0.672,"i":0.004},{"s":14,"t":0.68,"i":-0.007},{"s":14,"t":0.688,"i":0.002},{"s":14,"t":0.694,"i":0.007},{"s":14,"t":0.698,"i":-0.004},

          {"s":15,"t":0.1,"i":0},{"s":15,"t":0.1004,"i":-0.18},{"s":15,"t":0.102,"i":-0.138},{"s":15,"t":0.1035,"i":-0.119},{"s":15,"t":0.106,"i":-0.108},{"s":15,"t":0.11,"i":-0.1},{"s":15,"t":0.115,"i":-0.094},{"s":15,"t":0.122,"i":-0.09},{"s":15,"t":0.132,"i":-0.086},
          {"s":15,"t":0.15,"i":-0.09},{"s":15,"t":0.165,"i":-0.08},{"s":15,"t":0.18,"i":-0.077},{"s":15,"t":0.195,"i":-0.085},{"s":15,"t":0.21,"i":-0.089},{"s":15,"t":0.225,"i":-0.079},{"s":15,"t":0.24,"i":-0.083},{"s":15,"t":0.255,"i":-0.087},{"s":15,"t":0.27,"i":-0.076},{"s":15,"t":0.285,"i":-0.086},{"s":15,"t":0.3,"i":-0.081},{"s":15,"t":0.315,"i":-0.089},{"s":15,"t":0.33,"i":-0.079},{"s":15,"t":0.345,"i":-0.08},{"s":15,"t":0.36,"i":-0.087},{"s":15,"t":0.375,"i":-0.077},{"s":15,"t":0.39,"i":-0.085},{"s":15,"t":0.405,"i":-0.09},{"s":15,"t":0.42,"i":-0.08},{"s":15,"t":0.435,"i":-0.083},{"s":15,"t":0.45,"i":-0.077},{"s":15,"t":0.465,"i":-0.086},{"s":15,"t":0.48,"i":-0.079},{"s":15,"t":0.495,"i":-0.086},{"s":15,"t":0.51,"i":-0.077},{"s":15,"t":0.525,"i":-0.089},{"s":15,"t":0.54,"i":-0.081},{"s":15,"t":0.555,"i":-0.076},{"s":15,"t":0.57,"i":-0.087},{"s":15,"t":0.585,"i":-0.083},{"s":15,"t":0.598,"i":-0.09},
          {"s":15,"t":0.6,"i":0.09},{"s":15,"t":0.6015,"i":0.05},{"s":15,"t":0.6035,"i":0.03},{"s":15,"t":0.607,"i":0.018},{"s":15,"t":0.612,"i":0.012},{"s":15,"t":0.618,"i":0.015},{"s":15,"t":0.625,"i":0.004},{"s":15,"t":0.635,"i":-0.003},{"s":15,"t":0.645,"i":0.006},{"s":15,"t":0.655,"i":-0.002},{"s":15,"t":0.665,"i":0.006},{"s":15,"t":0.672,"i":-0.005},{"s":15,"t":0.68,"i":0.002},{"s":15,"t":0.688,"i":0.005},{"s":15,"t":0.694,"i":-0.006},{"s":15,"t":0.698,"i":0.003},

          {"s":16,"t":0.1,"i":0},{"s":16,"t":0.1004,"i":-0.22},{"s":16,"t":0.102,"i":-0.169},{"s":16,"t":0.1035,"i":-0.146},{"s":16,"t":0.106,"i":-0.133},{"s":16,"t":0.11,"i":-0.124},{"s":16,"t":0.115,"i":-0.117},{"s":16,"t":0.122,"i":-0.112},{"s":16,"t":0.132,"i":-0.108},
          {"s":16,"t":0.15,"i":-0.1},{"s":16,"t":0.165,"i":-0.111},{"s":16,"t":0.18,"i":-0.101},{"s":16,"t":0.195,"i":-0.106},{"s":16,"t":0.21,"i":-0.098},{"s":16,"t":0.225,"i":-0.108},{"s":16,"t":0.24,"i":-0.107},{"s":16,"t":0.255,"i":-0.1},{"s":16,"t":0.27,"i":-0.11},{"s":16,"t":0.285,"i":-0.102},{"s":16,"t":0.3,"i":-0.097},{"s":16,"t":0.315,"i":-0.107},{"s":16,"t":0.33,"i":-0.104},{"s":16,"t":0.345,"i":-0.11},{"s":16,"t":0.36,"i":-0.101},{"s":16,"t":0.375,"i":-0.108},{"s":16,"t":0.39,"i":-0.101},{"s":16,"t":0.405,"i":-0.11},{"s":16,"t":0.42,"i":-0.098},{"s":16,"t":0.435,"i":-0.106},{"s":16,"t":0.45,"i":-0.111},{"s":16,"t":0.465,"i":-0.1},{"s":16,"t":0.48,"i":-0.104},{"s":16,"t":0.495,"i":-0.097},{"s":16,"t":0.51,"i":-0.107},{"s":16,"t":0.525,"i":-0.11},{"s":16,"t":0.54,"i":-0.102},{"s":16,"t":0.555,"i":-0.098},{"s":16,"t":0.57,"i":-0.108},{"s":16,"t":0.585,"i":-0.104},{"s":16,"t":0.598,"i":-0.1},
          {"s":16,"t":0.6,"i":0.11},{"s":16,"t":0.6015,"i":0.065},{"s":16,"t":0.6035,"i":0.04},{"s":16,"t":0.607,"i":0.024},{"s":16,"t":0.612,"i":0.016},{"s":16,"t":0.618,"i":0.009},{"s":16,"t":0.625,"i":0.003},{"s":16,"t":0.635,"i":0.011},{"s":16,"t":0.645,"i":-0.001},{"s":16,"t":0.655,"i":0.005},{"s":16,"t":0.665,"i":-0.007},{"s":16,"t":0.672,"i":0.002},{"s":16,"t":0.68,"i":0.007},{"s":16,"t":0.688,"i":-0.004},{"s":16,"t":0.694,"i":0.003},{"s":16,"t":0.698,"i":-0.006},

          {"s":17,"t":0.1,"i":0},{"s":17,"t":0.1004,"i":-0.26},{"s":17,"t":0.102,"i":-0.203},{"s":17,"t":0.1035,"i":-0.177},{"s":17,"t":0.106,"i":-0.162},{"s":17,"t":0.11,"i":-0.151},{"s":17,"t":0.115,"i":-0.143},{"s":17,"t":0.122,"i":-0.137},{"s":17,"t":0.1228,"i":-0.19},{"s":17,"t":0.1232,"i":-0.137},{"s":17,"t":0.132,"i":-0.133},
          {"s":17,"t":0.15,"i":-0.132},{"s":17,"t":0.165,"i":-0.122},{"s":17,"t":0.18,"i":-0.13},{"s":17,"t":0.195,"i":-0.135},{"s":17,"t":0.21,"i":-0.125},{"s":17,"t":0.225,"i":-0.128},{"s":17,"t":0.24,"i":-0.122},{"s":17,"t":0.255,"i":-0.131},{"s":17,"t":0.27,"i":-0.124},{"s":17,"t":0.285,"i":-0.131},{"s":17,"t":0.3,"i":-0.122},{"s":17,"t":0.315,"i":-0.134},{"s":17,"t":0.33,"i":-0.126},{"s":17,"t":0.345,"i":-0.121},{"s":17,"t":0.357,"i":-0.142},{"s":17,"t":0.36,"i":-0.132},{"s":17,"t":0.375,"i":-0.128},{"s":17,"t":0.382,"i":-0.145},{"s":17,"t":0.385,"i":-0.128},{"s":17,"t":0.388,"i":-0.152},{"s":17,"t":0.391,"i":-0.13},{"s":17,"t":0.405,"i":-0.125},{"s":17,"t":0.42,"i":-0.122},{"s":17,"t":0.435,"i":-0.13},{"s":17,"t":0.45,"i":-0.134},{"s":17,"t":0.465,"i":-0.124},{"s":17,"t":0.48,"i":-0.128},{"s":17,"t":0.495,"i":-0.132},{"s":17,"t":0.51,"i":-0.121},{"s":17,"t":0.525,"i":-0.131},{"s":17,"t":0.54,"i":-0.126},{"s":17,"t":0.555,"i":-0.134},{"s":17,"t":0.57,"i":-0.124},{"s":17,"t":0.585,"i":-0.125},{"s":17,"t":0.598,"i":-0.132},
          {"s":17,"t":0.6,"i":0.13},{"s":17,"t":0.6015,"i":0.08},{"s":17,"t":0.6035,"i":0.05},{"s":17,"t":0.607,"i":0.03},{"s":17,"t":0.612,"i":0.02},{"s":17,"t":0.618,"i":0.01},{"s":17,"t":0.625,"i":0.013},{"s":17,"t":0.635,"i":0},{"s":17,"t":0.645,"i":0.008},{"s":17,"t":0.655,"i":0},{"s":17,"t":0.665,"i":-0.005},{"s":17,"t":0.672,"i":0.006},{"s":17,"t":0.68,"i":-0.003},{"s":17,"t":0.688,"i":0.004},{"s":17,"t":0.694,"i":-0.007},{"s":17,"t":0.698,"i":0.002}
        ]
      },
      "mark": {"type": "line", "color": "#ff0000", "strokeWidth": 1.6, "clip": true},
      "encoding": {
        "x": {
          "field": "t",
          "type": "quantitative",
          "scale": {"domain": [0, 0.698], "nice": false, "zero": false},
          "axis": {"values": [0.1, 0.6], "title": "t [s]", "labelPadding": 20, "titlePadding": 5}
        },
        "y": {
          "field": "i",
          "type": "quantitative",
          "scale": {"domain": [-0.486, 0.631], "nice": false, "zero": false},
          "axis": {"values": [-0.4, -0.2, 0, 0.2, 0.4, 0.6], "title": "I [nA]", "labelPadding": 21, "titlePadding": 1}
        },
        "detail": {"field": "s", "type": "nominal"}
      }
    },
    {
      "data": {"values": [{}]},
      "mark": {"type": "text", "align": "left", "baseline": "alphabetic", "font": "DejaVu Sans", "fontSize": 24, "fontWeight": "bold", "color": "#000000"},
      "encoding": {
        "x": {"datum": 0.0139, "type": "quantitative"},
        "y": {"datum": 0.669, "type": "quantitative"},
        "text": {"value": "TASK2\u00a0 Rat\u00a0 CHO_FT"}
      }
    },
    {
      "data": {"values": [{}]},
      "mark": {"type": "text", "align": "right", "baseline": "alphabetic", "font": "DejaVu Sans", "fontSize": 18.5, "color": "#000000", "dx": -1},
      "encoding": {
        "x": {"datum": 0.698, "type": "quantitative"},
        "y": {"datum": 0.619, "type": "quantitative"},
        "text": {"value": "35 °C\u00a0 Activation"}
      }
    },
    {
      "data": {"values": [{}]},
      "mark": {"type": "text", "align": "center", "baseline": "middle", "angle": 270, "font": "DejaVu Sans", "fontSize": 12.5, "color": "#000000"},
      "encoding": {
        "x": {"datum": 0.713, "type": "quantitative"},
        "y": {"datum": 0.0905, "type": "quantitative"},
        "text": {"value": "BBP Channelpedia ID 29341 rep 2"}
      }
    }
  ]
}
